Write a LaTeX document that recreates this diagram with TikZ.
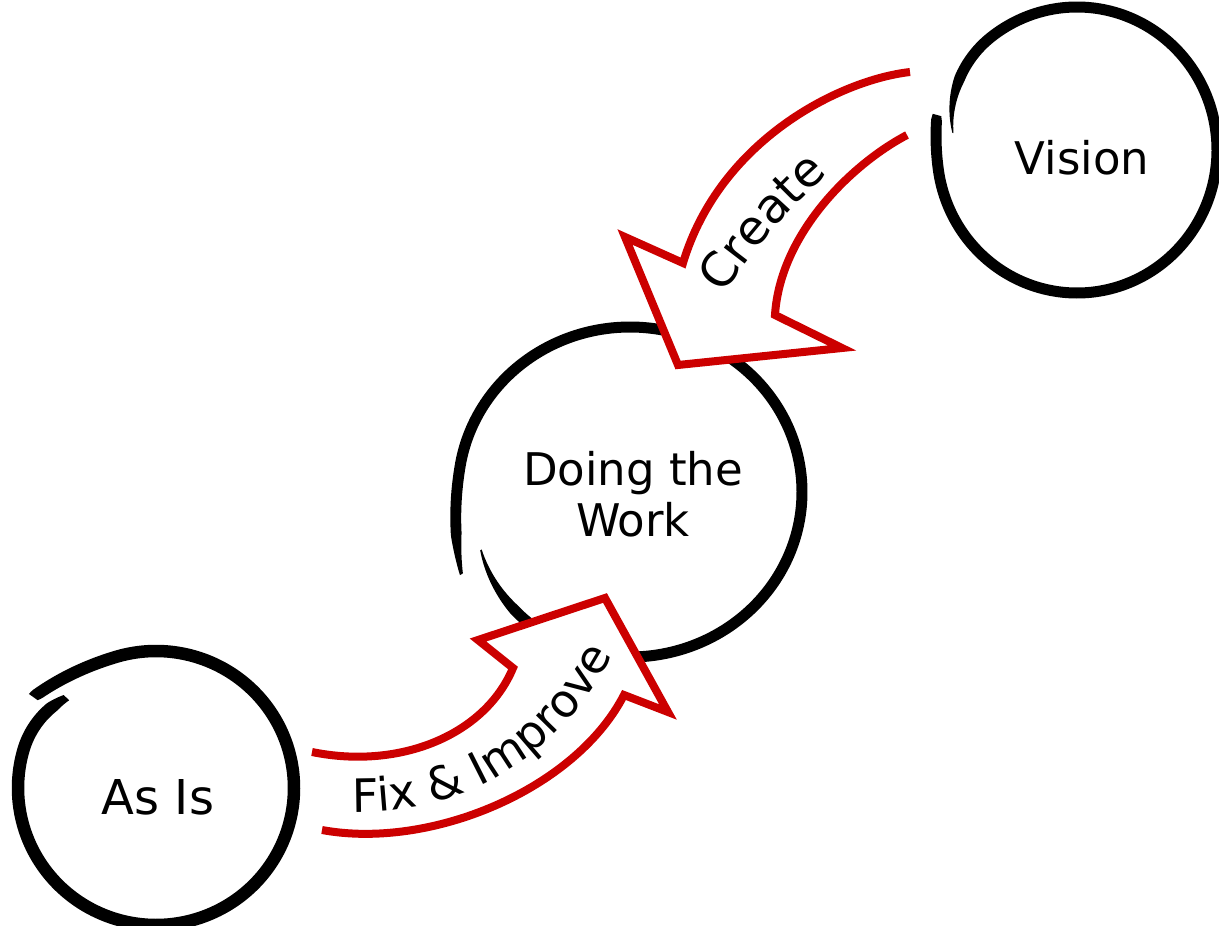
\documentclass[tikz,border=0pt]{standalone}
\usepackage{fontspec}
\setmainfont{DejaVu Sans}
\usetikzlibrary{decorations.text}
\definecolor{arrowred}{RGB}{204,0,0}
\newcommand\brushring[5]{%
  \fill[black] plot[domain=0:1,samples=360,variable=\s]
    ({#1+(#3*#5f(\s)+#5w(\s)/2)*cos(#5a(\s))},{#2+(#4*#5f(\s)+#5w(\s)/2)*sin(#5a(\s))})
    -- plot[domain=0:1,samples=360,variable=\s]
    ({#1+(#3*#5f(1-\s)-#5w(1-\s)/2)*cos(#5a(1-\s))},{#2+(#4*#5f(1-\s)-#5w(1-\s)/2)*sin(#5a(1-\s))})
    -- cycle;}
\newcommand\lblfont{\fontsize{45}{51}\selectfont}
\newcommand\asisfont{\fontsize{48}{54}\selectfont}
\newcommand\createfont{\fontsize{48}{56}\selectfont}
\newcommand\fixfont{\fontsize{46}{54}\selectfont}
\begin{document}
\begin{tikzpicture}[x=1pt,y=-1pt,
  declare function={
    via(\s)=193.8-366.2*\s;
    vif(\s)=1+0.03*pow(max(0,1-\s/0.06),2)-0.106*pow(max(0,(\s-0.88)/0.12),2);
    viw(\s)=11*min(1,0.8+\s/0.03)*min(1,0.1+(1-\s)/0.07);
    dwa(\s)=153+365*\s;
    dwf(\s)=1+0.10*pow(max(0,1-\s/0.1),2)-0.065*pow(max(0,(\s-0.85)/0.15),2);
    dww(\s)=11*min(1,0.3+\s/0.05)*min(1,0.15+(1-\s)/0.08);
    aia(\s)=216.7+368.8*\s;
    aif(\s)=1+0.11*pow(max(0,1-\s/0.1),2)-0.075*pow(max(0,(\s-0.92)/0.08),2);
    aiw(\s)=12.5*min(1,0.85+\s/0.03)*min(1,0.6+(1-\s)/0.05);
  },
  lbl/.style={font=\lblfont, inner sep=0pt, text=black},
  arrowbody/.style={draw=arrowred, line width=8pt, line join=miter, miter limit=20},
  arrowtext/.style={decorate, decoration={text along path, text align=center}}
]
\useasboundingbox (0,0) rectangle (1219,926);
% brush circles
\brushring{1077}{150}{140}{143}{vi}
\brushring{630}{492}{172}{165}{dw}
\brushring{156}{788}{138}{137}{ai}
% Create arrow
\coordinate (cTailU) at (910,72);
\coordinate (cTailL) at (907,135);
\coordinate (cNeckL) at (683,263);
\coordinate (cBarbL) at (625,237);
\coordinate (cTip) at (678,365);
\coordinate (cBarbR) at (842,348);
\coordinate (cNeckR) at (775,315);
\newcommand\createshape{(cTailU) .. controls (840,80) and (720,140) .. (cNeckL) -- (cBarbL) -- (cTip) -- (cBarbR) -- (cNeckR) .. controls (780,235) and (850,165) .. (cTailL)}
\fill[white] \createshape -- cycle;
\draw[arrowbody] \createshape;
% Fix & Improve arrow
\coordinate (fTailU) at (312,752);
\coordinate (fTailL) at (322,830);
\coordinate (fNeckL) at (513,668);
\coordinate (fBarbL) at (478,640);
\coordinate (fTip) at (605,598);
\coordinate (fBarbR) at (668,712);
\coordinate (fNeckR) at (624,695);
\newcommand\fixshape{(fTailU) .. controls (400,770) and (485,735) .. (fNeckL) -- (fBarbL) -- (fTip) -- (fBarbR) -- (fNeckR) .. controls (575,790) and (430,850) .. (fTailL)}
\fill[white] \fixshape -- cycle;
\draw[arrowbody] \fixshape;
% labels
\node[lbl] (vision) at (1082,158) {Vision};
\node[lbl, align=center] (work) at (633,494) {Doing the\\Work};
\node[lbl, font=\asisfont] (asis) at (158,797) {As Is};
\path[arrowtext, decoration={text={|\createfont|Create}}] (698,338) .. controls (738,263) and (798,193) .. (868,143);
\path[decorate, decoration={text along path, text align=left, text={|\fixfont|Fix {\&} Improve}}] (352,812) .. controls (450,815) and (565,770) .. (630,620);
\end{tikzpicture}
\end{document}
